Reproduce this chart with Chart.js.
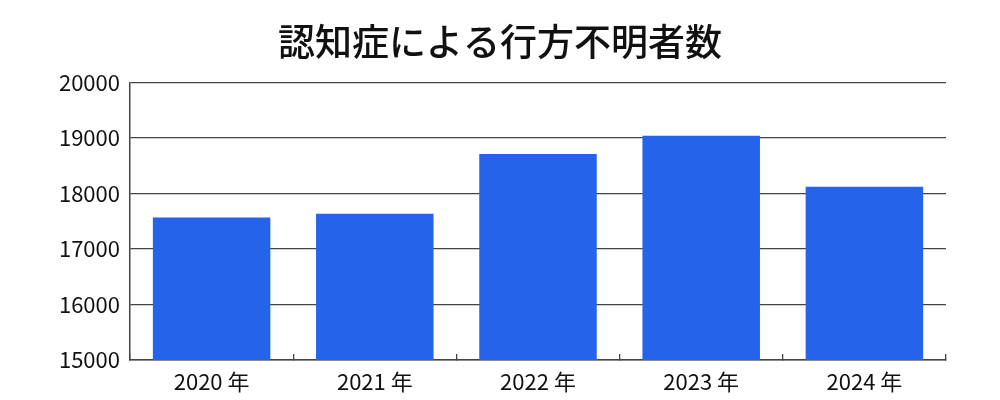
<!DOCTYPE html>
<html>
<head>
<meta charset="utf-8">
<script src="https://cdn.jsdelivr.net/npm/chart.js@4"></script>
<style>
  html, body { margin: 0; padding: 0; background: #fff; }
  #wrap { width: 1000px; height: 400px; }
</style>
</head>
<body>
<div id="wrap"><canvas id="missingChart"></canvas></div>
<script>
const years = ['2020 年', '2021 年', '2022 年', '2023 年', '2024 年'];
const missingCounts = [17565, 17636, 18709, 19039, 18121];
const yMin = 15000;
const yMax = 20000;
const yStep = 1000;

const font = '"Noto Sans CJK JP", "Noto Sans", sans-serif';

new Chart(document.getElementById('missingChart'), {
  type: 'bar',
  data: {
    labels: years,
    datasets: [{
      label: '行方不明者数',
      data: missingCounts,
      backgroundColor: '#2563eb',
      borderWidth: 0,
      categoryPercentage: 1.0,
      barPercentage: 0.72
    }]
  },
  options: {
    responsive: true,
    maintainAspectRatio: false,
    animation: false,
    // 左右対称にしてタイトルを中央に
    layout: { padding: { left: 32, right: 32, top: 10, bottom: 0 } },
    plugins: {
      legend: { display: false },
      tooltip: { enabled: false },
      title: {
        display: true,
        text: '認知症による行方不明者数',
        color: '#111',
        font: { family: font, size: 37, weight: '500' },
        padding: { top: 10, bottom: 18 }
      }
    },
    scales: {
      x: {
        afterFit: s => { s.height = 40; },
        grid: {
          display: true,
          drawOnChartArea: false,
          drawTicks: true,
          tickLength: -6,
          color: '#444',
          lineWidth: 1.3
        },
        border: { display: true, color: '#444', width: 1.5 },
        ticks: {
          color: '#111',
          font: { family: font, size: 22 },
          padding: 14
        }
      },
      y: {
        min: yMin,
        max: yMax,
        afterFit: s => { s.width = 98; },
        grid: {
          drawTicks: false,
          color: '#444',
          lineWidth: 1.3
        },
        border: { display: true, color: '#444', width: 1.5 },
        ticks: {
          stepSize: yStep,
          color: '#111',
          font: { family: font, size: 22 },
          padding: 10,
          callback: v => String(v)
        }
      },
      // 右側の余白用（表示なし）
      yRight: {
        position: 'right',
        min: yMin,
        max: yMax,
        afterFit: s => { s.width = 22; },
        grid: { display: false },
        border: { display: false },
        ticks: { display: false }
      }
    }
  }
});
</script>
</body>
</html>
